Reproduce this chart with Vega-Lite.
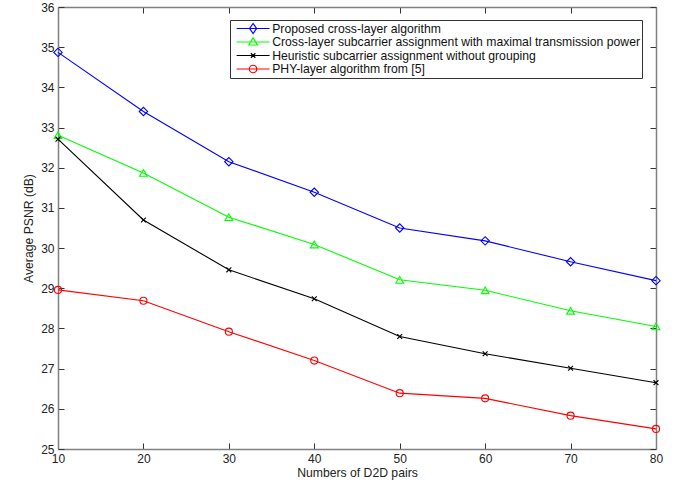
{
  "$schema": "https://vega.github.io/schema/vega-lite/v6.json",
  "width": 598,
  "height": 442,
  "padding": {"left": 22, "top": 1, "right": 10, "bottom": 5},
  "background": "white",
  "config": {
    "view": {"stroke": null},
    "font": "Liberation Sans",
    "axis": {
      "domainColor": "#808080",
      "domainWidth": 1.5,
      "tickColor": "#333333",
      "tickSize": -6,
      "labelPadding": 10,
      "labelFlush": false,
      "labelFont": "Liberation Sans",
      "labelFontSize": 12,
      "labelColor": "#222222",
      "titleFont": "Liberation Sans",
      "titleFontSize": 12.2,
      "titleFontWeight": "normal",
      "titleColor": "#222222",
      "grid": false
    }
  },
  "data": {
    "values": [
      {"x": 10, "y": 34.87, "s": "Proposed cross-layer algorithm"},
      {"x": 20, "y": 33.40, "s": "Proposed cross-layer algorithm"},
      {"x": 30, "y": 32.15, "s": "Proposed cross-layer algorithm"},
      {"x": 40, "y": 31.39, "s": "Proposed cross-layer algorithm"},
      {"x": 50, "y": 30.50, "s": "Proposed cross-layer algorithm"},
      {"x": 60, "y": 30.18, "s": "Proposed cross-layer algorithm"},
      {"x": 70, "y": 29.66, "s": "Proposed cross-layer algorithm"},
      {"x": 80, "y": 29.19, "s": "Proposed cross-layer algorithm"},
      {"x": 10, "y": 32.81, "s": "Cross-layer subcarrier assignment with maximal transmission power"},
      {"x": 20, "y": 31.87, "s": "Cross-layer subcarrier assignment with maximal transmission power"},
      {"x": 30, "y": 30.77, "s": "Cross-layer subcarrier assignment with maximal transmission power"},
      {"x": 40, "y": 30.09, "s": "Cross-layer subcarrier assignment with maximal transmission power"},
      {"x": 50, "y": 29.21, "s": "Cross-layer subcarrier assignment with maximal transmission power"},
      {"x": 60, "y": 28.95, "s": "Cross-layer subcarrier assignment with maximal transmission power"},
      {"x": 70, "y": 28.44, "s": "Cross-layer subcarrier assignment with maximal transmission power"},
      {"x": 80, "y": 28.05, "s": "Cross-layer subcarrier assignment with maximal transmission power"},
      {"x": 10, "y": 32.71, "s": "Heuristic subcarrier assignment without grouping"},
      {"x": 20, "y": 30.70, "s": "Heuristic subcarrier assignment without grouping"},
      {"x": 30, "y": 29.46, "s": "Heuristic subcarrier assignment without grouping"},
      {"x": 40, "y": 28.74, "s": "Heuristic subcarrier assignment without grouping"},
      {"x": 50, "y": 27.80, "s": "Heuristic subcarrier assignment without grouping"},
      {"x": 60, "y": 27.37, "s": "Heuristic subcarrier assignment without grouping"},
      {"x": 70, "y": 27.01, "s": "Heuristic subcarrier assignment without grouping"},
      {"x": 80, "y": 26.65, "s": "Heuristic subcarrier assignment without grouping"},
      {"x": 10, "y": 28.96, "s": "PHY-layer algorithm from [5]"},
      {"x": 20, "y": 28.69, "s": "PHY-layer algorithm from [5]"},
      {"x": 30, "y": 27.92, "s": "PHY-layer algorithm from [5]"},
      {"x": 40, "y": 27.20, "s": "PHY-layer algorithm from [5]"},
      {"x": 50, "y": 26.39, "s": "PHY-layer algorithm from [5]"},
      {"x": 60, "y": 26.26, "s": "PHY-layer algorithm from [5]"},
      {"x": 70, "y": 25.83, "s": "PHY-layer algorithm from [5]"},
      {"x": 80, "y": 25.50, "s": "PHY-layer algorithm from [5]"}
    ]
  },
  "resolve": {"axis": {"x": "independent", "y": "independent"}},
  "encoding": {
    "x": {
      "field": "x", "type": "quantitative",
      "scale": {"domain": [10, 80], "nice": false, "zero": false},
      "axis": null
    },
    "y": {
      "field": "y", "type": "quantitative",
      "scale": {"domain": [25, 36], "nice": false, "zero": false},
      "axis": null
    }
  },
  "layer": [
    {
      "transform": [{"filter": "false"}],
      "mark": {"type": "point"},
      "encoding": {
        "x": {
          "field": "x", "type": "quantitative",
          "axis": {"values": [10, 20, 30, 40, 50, 60, 70, 80], "title": "Numbers of D2D pairs", "titlePadding": 2}
        },
        "y": {
          "field": "y", "type": "quantitative",
          "axis": {"values": [25, 26, 27, 28, 29, 30, 31, 32, 33, 34, 35, 36], "title": "Average PSNR (dB)", "titlePadding": 5}
        }
      }
    },
    {
      "transform": [{"filter": "false"}],
      "mark": {"type": "point"},
      "encoding": {
        "x": {
          "field": "x", "type": "quantitative",
          "axis": {"orient": "top", "values": [10, 20, 30, 40, 50, 60, 70, 80], "labels": false, "title": null}
        },
        "y": {
          "field": "y", "type": "quantitative",
          "axis": {"orient": "right", "values": [25, 26, 27, 28, 29, 30, 31, 32, 33, 34, 35, 36], "labels": false, "title": null}
        }
      }
    },
    {
      "transform": [{"filter": "datum.s == 'Proposed cross-layer algorithm'"}],
      "mark": {"type": "line", "color": "#0000ff", "strokeWidth": 1.1,
        "point": {"shape": "diamond", "filled": false, "color": "#0000ff", "size": 70, "strokeWidth": 1.1}}
    },
    {
      "transform": [{"filter": "datum.s == 'Cross-layer subcarrier assignment with maximal transmission power'"}],
      "mark": {"type": "line", "color": "#00ff00", "strokeWidth": 1.1,
        "point": {"shape": "triangle-up", "filled": false, "color": "#00ff00", "size": 60, "strokeWidth": 1.1}}
    },
    {
      "transform": [{"filter": "datum.s == 'Heuristic subcarrier assignment without grouping'"}],
      "mark": {"type": "line", "color": "#000000", "strokeWidth": 1.1,
        "point": {"shape": "M-1,-1L1,1M-1,1L1,-1", "filled": false, "color": "#000000", "size": 24, "strokeWidth": 1.1}}
    },
    {
      "transform": [{"filter": "datum.s == 'PHY-layer algorithm from [5]'"}],
      "mark": {"type": "line", "color": "#ff0000", "strokeWidth": 1.1,
        "point": {"shape": "circle", "filled": false, "color": "#ff0000", "size": 50, "strokeWidth": 1.1}}
    },
    {
      "transform": [{"filter": "false"}],
      "mark": {"type": "point", "filled": false},
      "encoding": {
        "color": {
          "field": "s", "type": "nominal",
          "scale": {
            "domain": ["Proposed cross-layer algorithm", "Cross-layer subcarrier assignment with maximal transmission power", "Heuristic subcarrier assignment without grouping", "PHY-layer algorithm from [5]"],
            "range": ["#0000ff", "#00ff00", "#000000", "#ff0000"]
          },
          "legend": {
            "title": null,
            "orient": "none",
            "legendX": 172,
            "legendY": 13,
            "symbolSize": 100,
            "symbolStrokeWidth": 1.2,
            "symbolOpacity": 1,
            "symbolOffset": 15,
            "labelOffset": 13,
            "labelFont": "Liberation Sans",
            "labelFontSize": 12.2,
            "labelColor": "#111111",
            "labelLimit": 500,
            "clipHeight": 13,
            "rowPadding": 0.5,
            "padding": 2,
            "strokeColor": "#333333",
            "fillColor": "white"
          }
        },
        "shape": {
          "field": "s", "type": "nominal",
          "scale": {
            "domain": ["Proposed cross-layer algorithm", "Cross-layer subcarrier assignment with maximal transmission power", "Heuristic subcarrier assignment without grouping", "PHY-layer algorithm from [5]"],
            "range": [
              "M-3.3,0H3.3M0,-1L0.7,0L0,1L-0.7,0Z",
              "M-3.3,0H3.3M0,-0.85L0.85,0.6L-0.85,0.6Z",
              "M-3.3,0H3.3M-0.45,-0.45L0.45,0.45M-0.45,0.45L0.45,-0.45",
              "M-3.3,0H3.3M0.75,0A0.75,0.75,0,1,1,-0.75,0A0.75,0.75,0,1,1,0.75,0Z"
            ]
          }
        }
      }
    }
  ]
}
